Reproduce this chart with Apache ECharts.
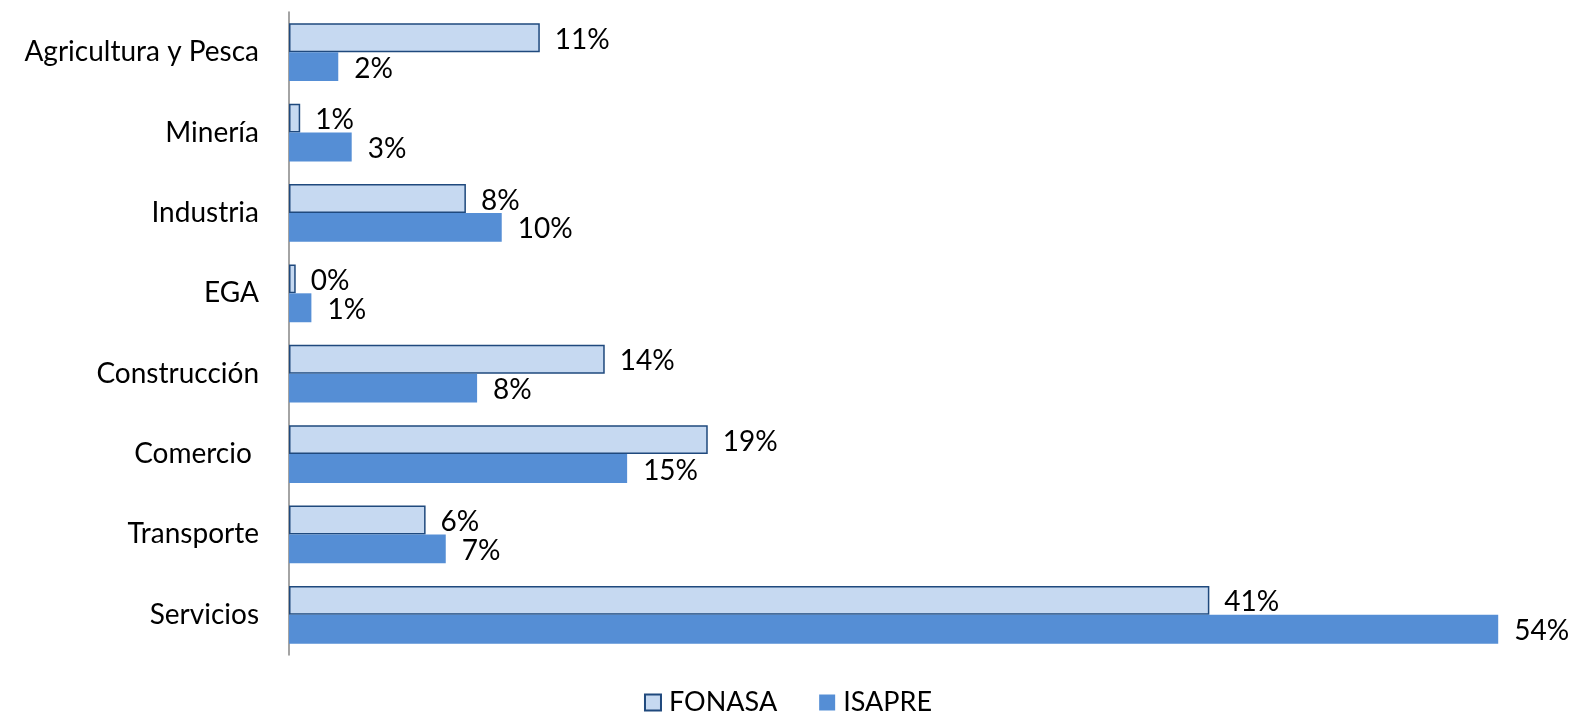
<!DOCTYPE html>
<html>
<head>
<meta charset="utf-8">
<script src="https://cdn.jsdelivr.net/npm/echarts@6/dist/echarts.min.js"></script>
<style>
  html, body { margin: 0; padding: 0; background: #fff; }
  #chart { width: 1576px; height: 715px; }
</style>
</head>
<body>
<div id="chart"></div>
<script>
// sectores, de arriba hacia abajo
var categories = ["Agricultura y Pesca", "Minería", "Industria", "EGA", "Construcción", "Comercio ", "Transporte", "Servicios"];
var fonasa = [11.2, 0.5, 7.9, 0.3, 14.1, 18.7, 6.1, 41.1];
var isapre = [2.2, 2.8, 9.5, 1.0, 8.4, 15.1, 7.0, 54.0];
var seriesNames = ["FONASA", "ISAPRE"];

var font = "Lato";
var chart = echarts.init(document.getElementById("chart"), null, { renderer: "canvas" });

function pct(p) {
  return Math.round(p.value) + "%";
}

var option = {
  animation: false,
  textStyle: { fontFamily: font },
  grid: { left: 289, right: 33, top: 12, bottom: 60, containLabel: false },
  legend: {
    bottom: -6,
    left: "center",
    icon: "rect",
    itemWidth: 16,
    itemHeight: 16,
    itemGap: 42,
    textStyle: { color: "#000", fontSize: 27, fontFamily: font, padding: [0, 0, 0, 3] },
    data: seriesNames
  },
  xAxis: {
    type: "value",
    min: 0,
    max: 56,
    show: false
  },
  yAxis: {
    type: "category",
    inverse: true,
    data: categories,
    axisLine: { show: true, lineStyle: { color: "#868686", width: 1.5 } },
    axisTick: { show: false },
    axisLabel: { color: "#000", fontSize: 28, fontFamily: font, margin: 30 }
  },
  series: [
    {
      name: seriesNames[0],
      type: "bar",
      data: fonasa,
      barGap: "0%",
      barCategoryGap: "28%",
      itemStyle: { color: "#C6D9F1", borderColor: "#1F497D", borderWidth: 1.5 },
      label: { show: true, position: "right", distance: 15, offset: [0, 2], color: "#000", fontSize: 28, fontFamily: font, formatter: pct }
    },
    {
      name: seriesNames[1],
      type: "bar",
      data: isapre,
      barGap: "0%",
      barCategoryGap: "28%",
      itemStyle: { color: "#558ED5" },
      label: { show: true, position: "right", distance: 16, offset: [0, 2], color: "#000", fontSize: 28, fontFamily: font, formatter: pct }
    }
  ]
};

chart.setOption(option);
</script>
</body>
</html>
